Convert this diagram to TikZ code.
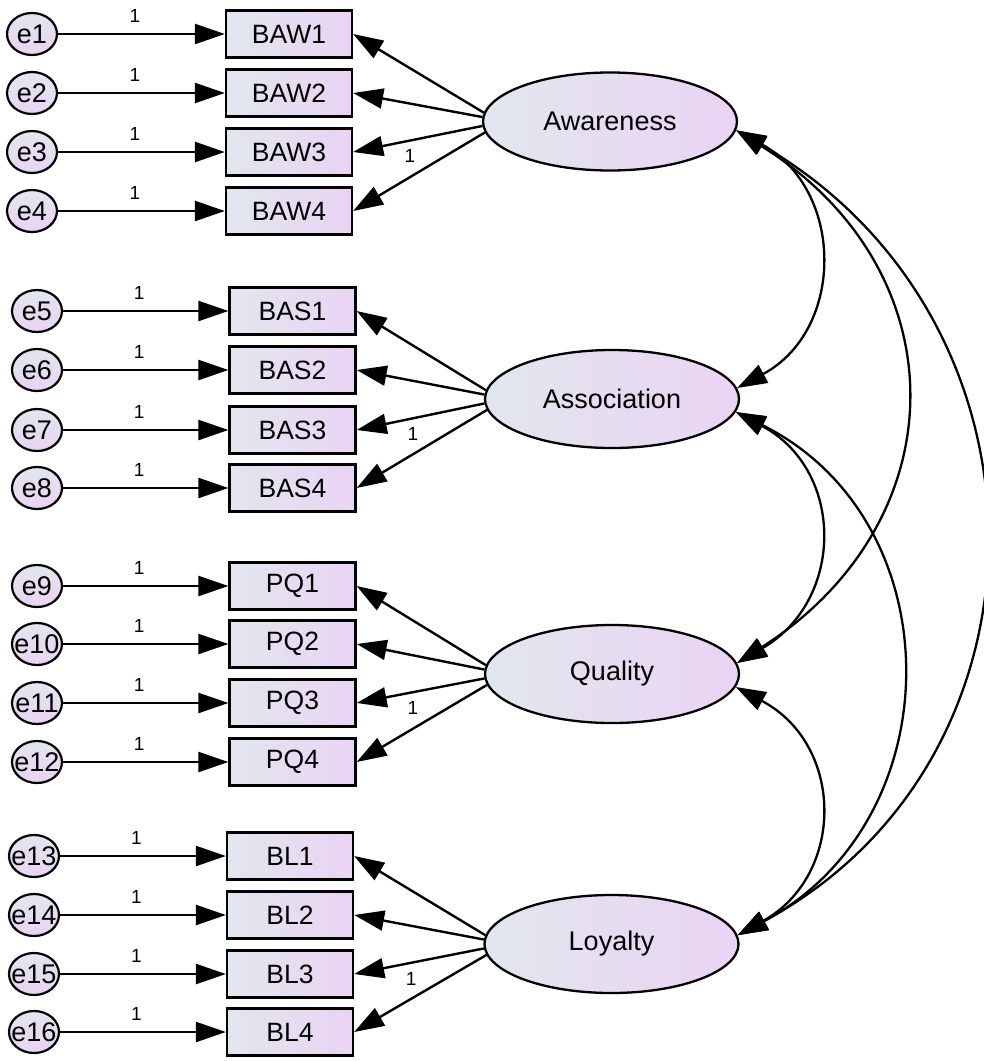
\documentclass[tikz,border=0pt]{standalone}
\usepackage{fontspec}
\setmainfont{Liberation Sans}
\usetikzlibrary{arrows.meta,shapes.geometric}
\definecolor{gl}{HTML}{E1E7EE}
\definecolor{gr}{HTML}{EAD3F3}
\begin{document}
\begin{tikzpicture}[x=1pt,y=-1pt,
  obs/.style={draw,line width=2.3pt,rectangle,minimum width=126pt,minimum height=47pt,inner sep=0pt,left color=gl,right color=gr,font=\fontsize{26.5}{26.5}\selectfont},
  err/.style={draw,line width=2.2pt,ellipse,minimum width=50pt,minimum height=42pt,inner sep=0pt,top color=gl,bottom color=gr,font=\fontsize{27}{27}\selectfont},
  lat/.style={draw,line width=2.3pt,ellipse,minimum width=254pt,minimum height=98pt,inner sep=0pt,left color=gl,right color=gr,font=\fontsize{27}{27}\selectfont},
  arr/.style={line width=2.4pt,-{Triangle[length=30pt,width=20pt]}},
  dbl/.style={line width=2.3pt,{Triangle[length=30pt,width=20pt]}-{Triangle[length=30pt,width=20pt]}},
  one/.style={font=\fontsize{19}{19}\selectfont,inner sep=0pt}
]
\useasboundingbox (0,0) rectangle (984,1061);

% latent variables
\node[lat] (Aw) at (610,121.5) {Awareness};
\node[lat] (As) at (612,399) {Association};
\node[lat] (Qu) at (612,674) {Quality};
\node[lat] (Lo) at (611.5,944) {Loyalty};

% group 1
\foreach \i/\y in {1/34,2/93,3/152,4/211}{
  \node[err] (e\i) at (32,\y) {\makebox[0pt]{e\i}};
  \node[obs] (BAW\i) at (289,\y) {BAW\i};
  \draw[arr] (e\i) -- node[one,pos=0.46,above=10pt]{1} (BAW\i);
}
% group 2
\foreach \i/\j/\y in {1/5/311,2/6/370,3/7/430,4/8/488}{
  \node[err] (e\j) at (37,\y) {\makebox[0pt]{e\j}};
  \node[obs] (BAS\i) at (292.5,\y) {BAS\i};
  \draw[arr] (e\j) -- node[one,pos=0.46,above=10pt]{1} (BAS\i);
}
% group 3
\foreach \i/\j/\y in {1/9/586,2/10/644,3/11/703,4/12/762}{
  \node[err] (e\j) at (37,\y) {\makebox[0pt]{e\j}};
  \node[obs] (PQ\i) at (292.5,\y) {PQ\i};
  \draw[arr] (e\j) -- node[one,pos=0.46,above=10pt]{1} (PQ\i);
}
% group 4
\foreach \i/\j/\y in {1/13/856,2/14/915,3/15/974,4/16/1032}{
  \node[err] (e\j) at (34,\y) {\makebox[0pt]{e\j}};
  \node[obs] (BL\i) at (290,\y) {BL\i};
  \draw[arr] (e\j) -- node[one,pos=0.46,above=10pt]{1} (BL\i);
}

% loadings
\draw[arr] (Aw.176) -- (BAW1.east);
\draw[arr] (Aw.178) -- (BAW2.east);
\draw[arr] (Aw.182) -- node[one,pos=0.56,below=8pt]{1} (BAW3.east);
\draw[arr] (Aw.185) -- (BAW4.east);

\draw[arr] (As.176) -- (BAS1.east);
\draw[arr] (As.178) -- (BAS2.east);
\draw[arr] (As.182) -- node[one,pos=0.56,below=8pt]{1} (BAS3.east);
\draw[arr] (As.185) -- (BAS4.east);

\draw[arr] (Qu.176) -- (PQ1.east);
\draw[arr] (Qu.178) -- (PQ2.east);
\draw[arr] (Qu.182) -- node[one,pos=0.56,below=8pt]{1} (PQ3.east);
\draw[arr] (Qu.185) -- (PQ4.east);

\draw[arr] (Lo.176) -- (BL1.east);
\draw[arr] (Lo.178) -- (BL2.east);
\draw[arr] (Lo.182) -- node[one,pos=0.56,below=8pt]{1} (BL3.east);
\draw[arr] (Lo.185) -- (BL4.east);

% covariances
\draw[dbl] (Aw.-4.6) .. controls (845,190) and (845,330) .. (As.5.6);
\draw[dbl] (Aw.-4.6) .. controls (960,270) and (960,520) .. (Qu.5);
\draw[dbl] (Aw.-4.6) .. controls (1064,320) and (1064,760) .. (Lo.4.2);
\draw[dbl] (As.-6) .. controls (845,470) and (845,600) .. (Qu.5);
\draw[dbl] (As.-6) .. controls (954,520) and (954,820) .. (Lo.4.2);
\draw[dbl] (Qu.-6) .. controls (845,745) and (845,875) .. (Lo.4.2);
\end{tikzpicture}
\end{document}
